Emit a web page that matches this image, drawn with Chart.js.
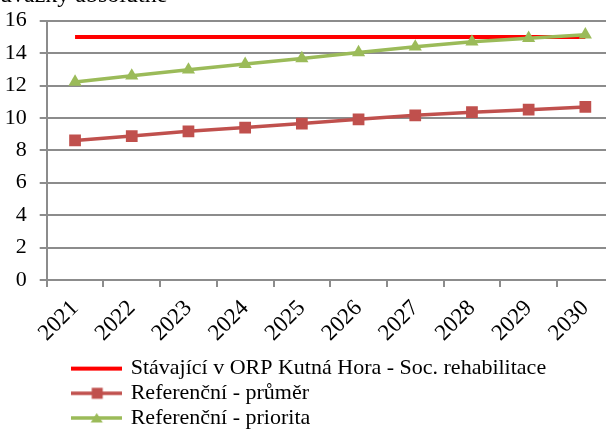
<!DOCTYPE html>
<html>
    <head>
        <title>Úvazky absolutně</title>
        <style>
            body { margin: 0; overflow: hidden; background: #fff; }
            .container { margin-top: -16px; width: 622px; }
        </style>
    </head>
    <body>
        <div class="container">
            <canvas id="uvazky" width="622" height="455"></canvas>
        </div>
    </body>

    <script src="https://cdn.jsdelivr.net/npm/chart.js@4/dist/chart.umd.min.js"></script>

    <script>
        const years = ['2021', '2022', '2023', '2024', '2025', '2026', '2027', '2028', '2029', '2030'];
        const stavajici = [15, 15, 15, 15, 15, 15, 15, 15, 15, 15];
        const prumer = [8.61, 8.88, 9.17, 9.40, 9.65, 9.91, 10.16, 10.35, 10.51, 10.68];
        const priorita = [12.22, 12.6, 12.97, 13.32, 13.67, 14.04, 14.39, 14.7, 14.92, 15.14];
        const yTicks = [0, 2, 4, 6, 8, 10, 12, 14, 16];

        const FONT = "'Liberation Serif', serif";
        const GRID = '#8c8c8c';

        // small picture for the legend: line with the marker in the middle
        function legendSymbol(color, lw, marker) {
            const c = document.createElement('canvas');
            c.width = 51;
            c.height = 14;
            const g = c.getContext('2d');
            g.strokeStyle = color;
            g.lineWidth = lw;
            g.beginPath();
            g.moveTo(0, 7);
            g.lineTo(51, 7);
            g.stroke();
            g.fillStyle = color;
            if (marker === 'rect') {
                g.fillRect(20.5, 1.5, 11, 11);
            }
            if (marker === 'triangle') {
                g.beginPath();
                g.moveTo(25.5, 2);
                g.lineTo(31.5, 11.5);
                g.lineTo(19.5, 11.5);
                g.closePath();
                g.fill();
            }
            return c;
        }

        const symbols = [
            legendSymbol('#ff0000', 4, null),
            legendSymbol('#c0504d', 3.5, 'rect'),
            legendSymbol('#9bbb59', 3.5, 'triangle')
        ];

        const moveLegend = {
            id: 'moveLegend',
            afterLayout(chart) {
                chart.legend.left = 71;
            }
        };

        const context = document.getElementById('uvazky').getContext('2d');

        const chart = new Chart(context, {
            type: 'line',
            data: {
                labels: years,
                datasets: [{
                    label: 'Stávající v ORP Kutná Hora - Soc. rehabilitace',
                    data: stavajici,
                    borderColor: '#ff0000',
                    backgroundColor: '#ff0000',
                    borderWidth: 4,
                    pointRadius: 0,
                    order: 3
                }, {
                    label: 'Referenční - průměr',
                    data: prumer,
                    borderColor: '#c0504d',
                    backgroundColor: '#c0504d',
                    borderWidth: 3.5,
                    pointStyle: 'rect',
                    pointRadius: 8.3,
                    pointBorderWidth: 0,
                    order: 2
                }, {
                    label: 'Referenční - priorita',
                    data: priorita,
                    borderColor: '#9bbb59',
                    backgroundColor: '#9bbb59',
                    borderWidth: 3.5,
                    pointStyle: 'triangle',
                    pointRadius: 7.6,
                    pointBorderWidth: 0,
                    order: 1
                }]
            },
            options: {
                responsive: false,
                animation: false,
                layout: { padding: 0 },
                plugins: {
                    tooltip: { enabled: false },
                    title: {
                        display: true,
                        text: 'úvazky absolutně',
                        align: 'start',
                        color: '#000',
                        font: { family: FONT, size: 24, weight: 'normal', lineHeight: 1.0 },
                        padding: { top: 0, bottom: 12.7 }
                    },
                    legend: {
                        position: 'bottom',
                        align: 'start',
                        labels: {
                            color: '#000',
                            font: { family: FONT, size: 22 },
                            usePointStyle: true,
                            pointStyleWidth: 46,
                            padding: 2.7,
                            generateLabels(chart) {
                                const items = Chart.defaults.plugins.legend.labels.generateLabels(chart);
                                items.sort((a, b) => a.datasetIndex - b.datasetIndex);
                                items.forEach((item, i) => {
                                    item.pointStyle = symbols[item.datasetIndex];
                                    if (i > 0) item.text = item.text + '\u00a0'.repeat(40);
                                });
                                return items;
                            }
                        }
                    }
                },
                scales: {
                    x: {
                        offset: true,
                        grid: {
                            offset: true,
                            drawOnChartArea: false,
                            color: GRID,
                            lineWidth: 2,
                            tickLength: 7
                        },
                        border: { display: false },
                        ticks: {
                            autoSkip: false,
                            minRotation: 45,
                            maxRotation: 45,
                            padding: 8,
                            color: '#000',
                            font: { family: FONT, size: 23 }
                        },
                        afterFit: (scale) => { scale.height = 75; }
                    },
                    y: {
                        min: 0,
                        max: 16,
                        afterBuildTicks: (scale) => { scale.ticks = yTicks.map(v => ({ value: v })); },
                        grid: {
                            color: GRID,
                            lineWidth: 2,
                            tickLength: 7
                        },
                        border: { color: GRID, width: 2 },
                        ticks: {
                            padding: 13,
                            color: '#000',
                            font: { family: FONT, size: 22 }
                        },
                        afterFit: (scale) => { scale.width = 46.7; }
                    }
                }
            },
            plugins: [moveLegend]
        });
    </script>
</html>
